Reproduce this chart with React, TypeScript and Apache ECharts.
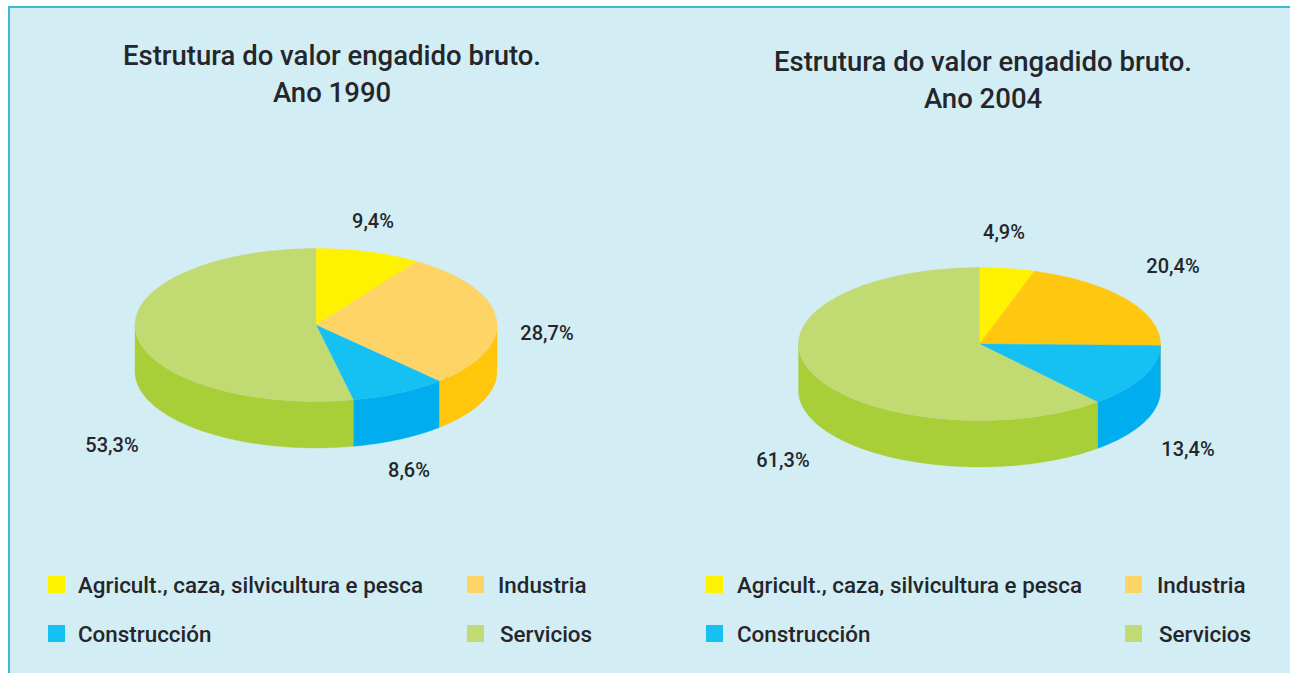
import React, { useEffect, useRef } from "react";
import * as echarts from "echarts";

const categories = ["Agricult., caza, silvicultura e pesca", "Industria", "Construcción", "Servicios"];
const values1990 = [9.4, 28.7, 8.6, 53.3];
const values2004 = [4.9, 20.4, 13.4, 61.3];
const titles = ["Estrutura do valor engadido bruto.\nAno 1990", "Estrutura do valor engadido bruto.\nAno 2004"];

const topColors1990 = ["#FFF200", "#FFD466", "#15C0F3", "#C1DA72"];
const topColors2004 = ["#FFF200", "#FFC70F", "#15C0F3", "#C1DA72"];
const wallColors = ["#FFF200", "#FFC60B", "#00AEEF", "#A8CF38"];
const legendColors = ["#FFF200", "#FFD466", "#15C0F3", "#C1DA72"];

const FONT = "Roboto";
const INK = "#25262A";
const RX = 181;
const RY = 76.5;
const DEPTH = 46.5;

function pieSeries(name: string, values: number[], cx: number, cy: number, tops: string[], labelPos: number[][]) {
  const total = values.reduce((a, b) => a + b, 0);
  const pt = (deg: number, dy = 0): number[] => {
    const r = (deg * Math.PI) / 180;
    return [cx + RX * Math.sin(r), cy - RY * Math.cos(r) + dy];
  };
  const arc = (a: number, b: number, dy = 0): number[][] => {
    const out: number[][] = [];
    const n = Math.max(2, Math.ceil(b - a));
    for (let i = 0; i <= n; i++) out.push(pt(a + ((b - a) * i) / n, dy));
    return out;
  };
  return {
    type: "custom",
    name,
    coordinateSystem: "none",
    silent: true,
    data: values,
    renderItem: (params: any, api: any) => {
      const i = params.dataIndex;
      const value = api.value(0);
      const before = values.slice(0, i).reduce((a, b) => a + b, 0);
      const a0 = (before / total) * 360;
      const a1 = ((before + value) / total) * 360;
      const children: any[] = [];
      const wa = Math.max(a0, 90);
      const wb = Math.min(a1, 270);
      if (wb > wa) {
        const pts = [...arc(wa, wb), ...arc(wa, wb, DEPTH).reverse()];
        children.push({
          type: "polygon",
          shape: { points: pts },
          style: { fill: wallColors[i], stroke: wallColors[i], lineWidth: 0.3 },
        });
      }
      children.push({
        type: "polygon",
        shape: { points: [[cx, cy], ...arc(a0, a1)] },
        style: { fill: tops[i], stroke: tops[i], lineWidth: 0.3 },
      });
      children.push({
        type: "text",
        x: labelPos[i][0],
        y: labelPos[i][1],
        style: {
          text: value.toFixed(1).replace(".", ",") + "%",
          fill: INK,
          font: `500 20px ${FONT}`,
          textAlign: "center",
          textVerticalAlign: "middle",
        },
      });
      return { type: "group", children };
    },
  };
}

function legendItems(xs: number[], textXs: number[][]) {
  const rows = [585, 634];
  const out: any[] = [];
  categories.forEach((c, i) => {
    const col = i % 2;
    const row = Math.floor(i / 2);
    out.push({
      type: "rect",
      shape: { x: xs[col], y: rows[row] - 9, width: 17, height: 17 },
      style: { fill: legendColors[i] },
    });
    out.push({
      type: "text",
      x: textXs[row][col],
      y: rows[row],
      style: { text: c, fill: INK, font: `500 22.4px ${FONT}`, textAlign: "left", textVerticalAlign: "middle" },
    });
  });
  return out;
}

export default function App() {
  const ref = useRef<HTMLDivElement>(null);
  useEffect(() => {
    document.body.style.margin = "0";
    const chart = echarts.init(ref.current!, null, { renderer: "svg" });
    chart.setOption({
      animation: false,
      backgroundColor: "#FFFFFF",
      title: titles.map((t, i) => ({
        text: t,
        left: i === 0 ? 332 : 983,
        top: i === 0 ? 36.5 : 42.5,
        padding: 0,
        textAlign: "center",
        textStyle: { fontFamily: FONT, fontWeight: 500, fontSize: 27.5, lineHeight: 37, color: INK },
      })),
      graphic: [
        {
          type: "rect",
          z: -10,
          shape: { x: 9, y: 7, width: 1320, height: 700 },
          style: { fill: "#D2EDF4", stroke: "#3CBBD4", lineWidth: 2 },
        },
        ...legendItems([48, 467], [[78, 498], [78, 500]]),
        ...legendItems([706, 1125], [[737, 1157], [737, 1159]]),
      ],
      series: [
        pieSeries("1990", values1990, 316, 325, topColors1990, [[373, 221], [547, 333], [409, 470], [112, 445]]),
        pieSeries("2004", values2004, 979.5, 344, topColors2004, [[1004, 232], [1173, 266], [1188, 449], [783, 460]]),
      ],
    });
    return () => chart.dispose();
  }, []);
  return <div ref={ref} style={{ position: "fixed", left: 0, top: 0, width: 1290, height: 673 }} />;
}
